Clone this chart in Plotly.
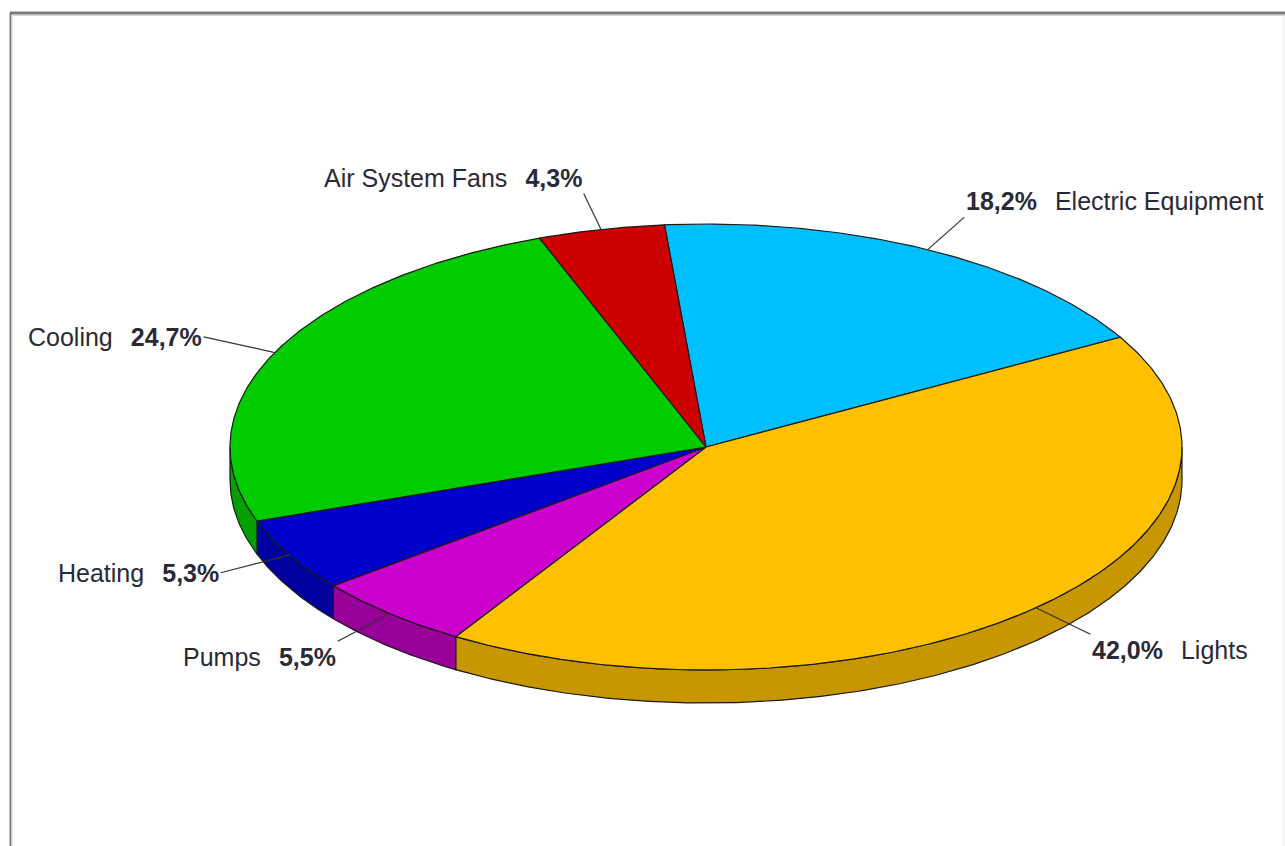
import numpy as np
import plotly.graph_objects as go

# Energy use by end category (share of total, %)
categories = ["Electric Equipment", "Lights", "Pumps", "Heating", "Cooling", "Air System Fans"]
shares = [18.2, 42.0, 5.5, 5.3, 24.7, 4.3]

top_colors = ["#00BFFF", "#FFC000", "#CC00CC", "#0000CC", "#00CC00", "#CC0000"]
side_colors = ["#0096C8", "#C89600", "#990099", "#00009E", "#00A000", "#990000"]

# canvas and pie geometry (pixel units, y grows downward)
W, H = 1285, 846
CX, CY = 706, 447
RX, RY = 476, 223
DEPTH = 33
START = 95.0          # angle of the first slice edge, going clockwise
LABEL_SCALE = 1.165   # leader lines end on this scaled ellipse
EDGE = "#1a1a1a"


def ellipse(t_deg, scale=1.0, dy=0.0):
    t = np.radians(t_deg)
    return CX + scale * RX * np.cos(t), CY - scale * RY * np.sin(t) + dy


def arc(a, b, dy=0.0):
    n = max(int(abs(a - b) * 2) + 2, 4)
    t = np.linspace(a, b, n)
    return ellipse(t, dy=dy)


total = float(sum(shares))
bounds = [START]
for v in shares:
    bounds.append(bounds[-1] - 360.0 * v / total)

fig = go.Figure()

# side walls of the front half (sin t < 0)
for i, v in enumerate(shares):
    a0, a1 = bounds[i], bounds[i + 1]
    for shift in (-720, -360, 0, 360):
        hi = min(a0, 0 + shift)
        lo = max(a1, -180 + shift)
        if hi - lo <= 1e-6:
            continue
        tx, ty = arc(hi, lo)
        bx, by = arc(lo, hi, dy=DEPTH)
        xs = np.concatenate([tx, bx, tx[:1]])
        ys = np.concatenate([ty, by, ty[:1]])
        fig.add_trace(go.Scatter(
            x=xs, y=ys, mode="lines", fill="toself",
            fillcolor=side_colors[i], line=dict(color=EDGE, width=1.2),
            hoverinfo="skip", showlegend=False))

# top faces
for i, v in enumerate(shares):
    a0, a1 = bounds[i], bounds[i + 1]
    ax_, ay_ = arc(a0, a1)
    xs = np.concatenate([[CX], ax_, [CX]])
    ys = np.concatenate([[CY], ay_, [CY]])
    fig.add_trace(go.Scatter(
        x=xs, y=ys, mode="lines", fill="toself",
        fillcolor=top_colors[i], line=dict(color=EDGE, width=1.2),
        hoverinfo="skip", showlegend=False, name=categories[i]))

# leader lines and labels
annotations = []
for i, v in enumerate(shares):
    mid = (bounds[i] + bounds[i + 1]) / 2.0
    x0, y0 = ellipse(mid)
    x1, y1 = ellipse(mid, scale=LABEL_SCALE)
    fig.add_trace(go.Scatter(
        x=[x0, x1], y=[y0, y1], mode="lines",
        line=dict(color="#333333", width=1.2),
        hoverinfo="skip", showlegend=False))
    c, s = np.cos(np.radians(mid)), np.sin(np.radians(mid))
    pct = "<b>" + f"{v:.1f}".replace(".", ",") + "%</b>"
    gap = "\u00a0\u00a0\u2006"
    if c < 0:
        text = categories[i] + gap + pct
        xanchor = "right"
    else:
        text = pct + gap + categories[i]
        xanchor = "left"
    if s > 0.6:
        yanchor = "bottom"
    elif s < -0.6:
        yanchor = "top"
    else:
        yanchor = "middle"
    annotations.append(dict(
        x=x1, y=y1, xref="x", yref="y", text=text, showarrow=False,
        xanchor=xanchor, yanchor=yanchor,
        font=dict(family="Liberation Sans, Arial, sans-serif", size=25, color="#2a2a36")))

# window frame
shapes = [
    dict(type="line", xref="x", yref="y", x0=10.5, y0=H, x1=10.5, y1=13,
         line=dict(color="#7a7a7a", width=2)),
    dict(type="line", xref="x", yref="y", x0=10, y0=13, x1=W, y1=13,
         line=dict(color="#7a7a7a", width=3)),
    dict(type="line", xref="x", yref="y", x0=12, y0=H, x1=12, y1=15,
         line=dict(color="#d6d6d6", width=1)),
    dict(type="line", xref="x", yref="y", x0=12, y0=15.5, x1=W, y1=15.5,
         line=dict(color="#d6d6d6", width=1)),
    dict(type="line", xref="x", yref="y", x0=1283.5, y0=H, x1=1283.5, y1=16,
         line=dict(color="#eeeeee", width=1)),
]

fig.update_layout(
    width=W, height=H, autosize=False,
    margin=dict(l=0, r=0, t=0, b=0),
    paper_bgcolor="white", plot_bgcolor="white",
    xaxis=dict(range=[0, W], visible=False, fixedrange=True),
    yaxis=dict(range=[H, 0], visible=False, fixedrange=True),
    annotations=annotations, shapes=shapes,
    showlegend=False,
)

fig.write_html("out.html")
